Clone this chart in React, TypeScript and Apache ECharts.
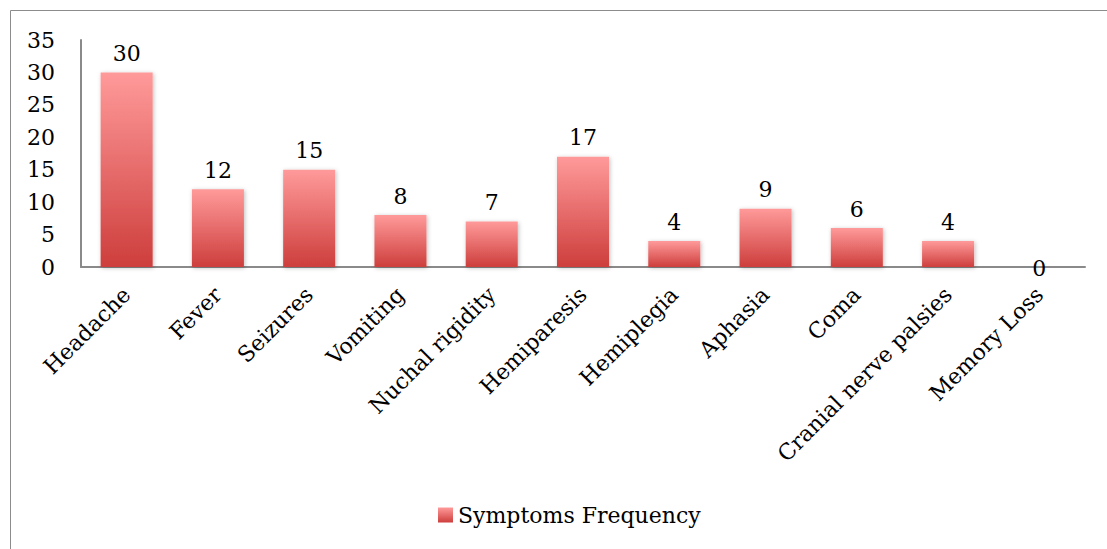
import React, { useEffect, useRef } from "react";
import * as echarts from "echarts";

const categories = [
  "Headache",
  "Fever",
  "Seizures",
  "Vomiting",
  "Nuchal rigidity",
  "Hemiparesis",
  "Hemiplegia",
  "Aphasia",
  "Coma",
  "Cranial nerve palsies",
  "Memory Loss",
];
const frequency = [30, 12, 15, 8, 7, 17, 4, 9, 6, 4, 0];
const seriesName = "Symptoms Frequency";

const FONT = "'DejaVu Serif', serif";

export default function App() {
  const ref = useRef<HTMLDivElement>(null);

  useEffect(() => {
    if (!ref.current) return;
    const chart = echarts.init(ref.current, undefined, { renderer: "svg" });
    const barGradient = new echarts.graphic.LinearGradient(0, 0, 0, 1, [
      { offset: 0, color: "#ff9a9a" },
      { offset: 1, color: "#cd3e3c" },
    ]);
    // a zero-height bar keeps its value label sitting on the axis line
    const barData = frequency.map((v) =>
      v === 0 ? { value: v, label: { offset: [0, 20] } } : v
    );
    chart.setOption({
      animation: false,
      backgroundColor: "#ffffff",
      textStyle: { fontFamily: FONT },
      graphic: [
        {
          type: "rect",
          shape: { x: 10.5, y: 10.5, width: 1200, height: 700 },
          style: { fill: "none", stroke: "#8c8c8c", lineWidth: 1 },
          silent: true,
          z: -1,
        },
      ],
      grid: { left: 81, right: 22, top: 40, bottom: 282, containLabel: false },
      legend: {
        bottom: 18,
        left: 433,
        itemWidth: 15,
        itemHeight: 15,
        icon: "rect",
        itemGap: 5,
        textStyle: { fontFamily: FONT, fontSize: 22, color: "#000" },
        data: [seriesName],
      },
      xAxis: {
        type: "category",
        data: categories,
        axisLine: { lineStyle: { color: "#8a8a8a", width: 2 } },
        axisTick: { show: false },
        axisLabel: {
          rotate: 45,
          interval: 0,
          margin: 24,
          color: "#000",
          fontFamily: FONT,
          fontSize: 22,
        },
      },
      yAxis: {
        type: "value",
        min: 0,
        max: 35,
        interval: 5,
        splitLine: { show: false },
        axisLine: { show: true, lineStyle: { color: "#8a8a8a", width: 2 } },
        axisTick: { show: false },
        axisLabel: {
          margin: 26,
          color: "#000",
          fontFamily: FONT,
          fontSize: 22,
        },
      },
      series: [
        {
          name: seriesName,
          type: "bar",
          data: barData,
          barCategoryGap: "43%",
          itemStyle: {
            color: barGradient,
            shadowColor: "rgba(0,0,0,0.25)",
            shadowBlur: 4,
            shadowOffsetX: 1,
            shadowOffsetY: 1,
          },
          label: {
            show: true,
            position: "top",
            distance: 8,
            color: "#000",
            fontFamily: FONT,
            fontSize: 22,
          },
        },
      ],
    });
    return () => chart.dispose();
  }, []);

  return (
    <div
      ref={ref}
      style={{ position: "absolute", left: 0, top: 0, width: 1107, height: 549 }}
    />
  );
}
